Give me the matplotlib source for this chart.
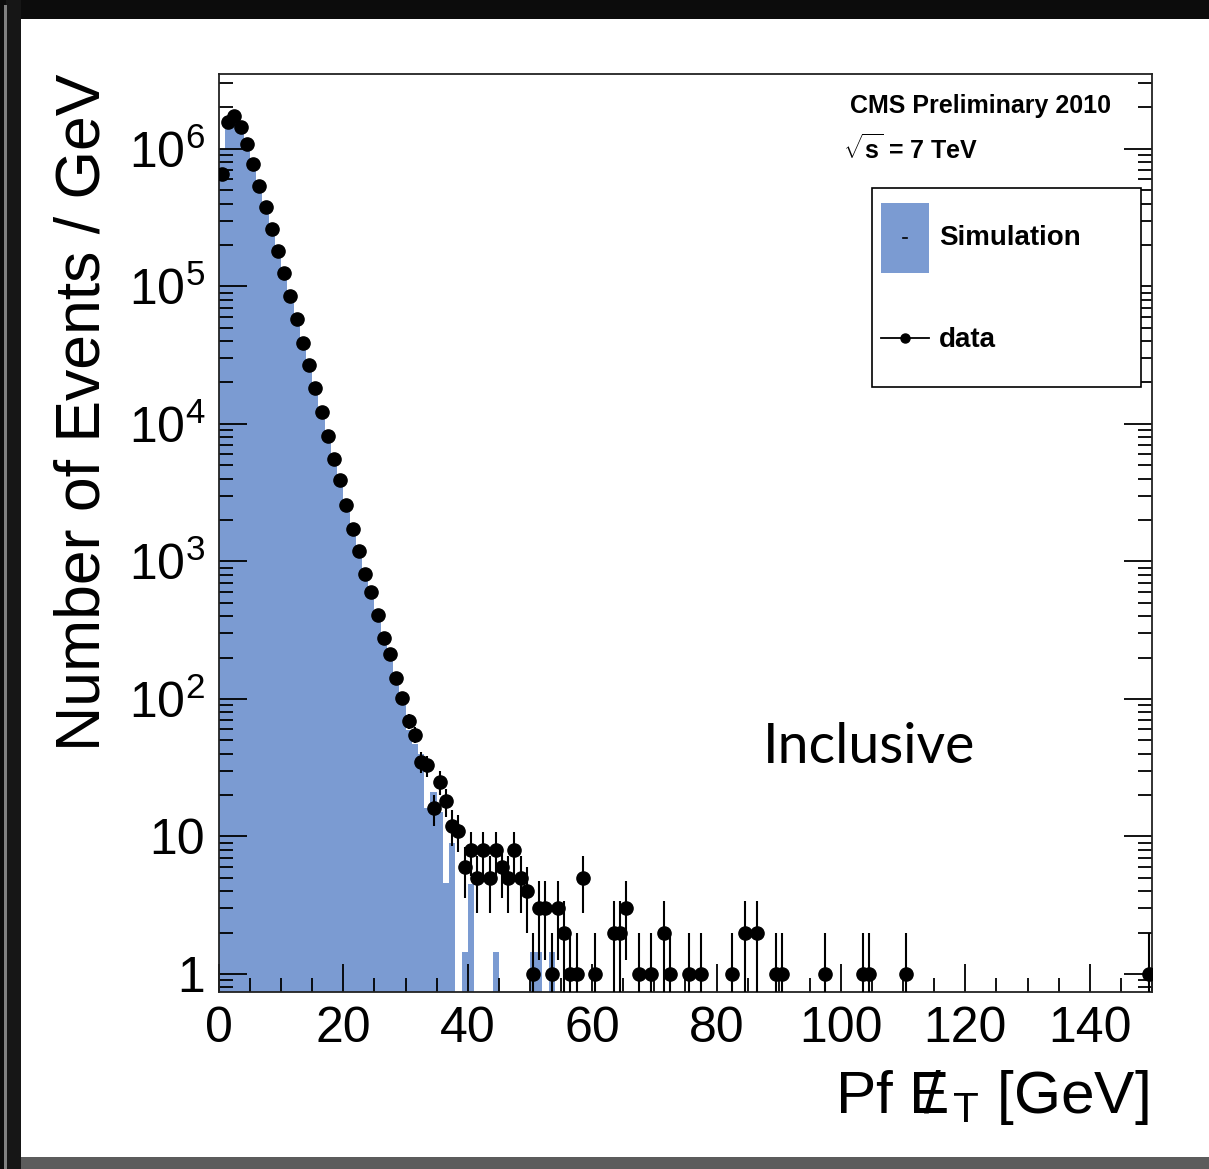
import matplotlib
matplotlib.use('Agg')
import matplotlib.pyplot as plt
import numpy as np
from matplotlib.patches import Rectangle
from matplotlib.lines import Line2D
from matplotlib.ticker import MultipleLocator, LogLocator, FixedLocator, FixedFormatter, NullFormatter

plt.rcParams['font.family'] = ['Liberation Sans', 'DejaVu Sans']
plt.rcParams['mathtext.fontset'] = 'custom'
plt.rcParams['mathtext.rm'] = 'Liberation Sans'
plt.rcParams['mathtext.bf'] = 'Liberation Sans:bold'
plt.rcParams['mathtext.it'] = 'Liberation Sans:italic'
plt.rcParams['mathtext.sf'] = 'Liberation Sans'

# data : borne inferieure du bin (1 GeV) et nombre d'evenements
data_bins = [0, 1, 2, 3, 4, 5, 6, 7, 8, 9, 10, 11, 12, 13, 14, 15, 16, 17, 18, 19,
             20, 21, 22, 23, 24, 25, 26, 27, 28, 29, 30, 31, 32, 33, 34, 35, 36, 37, 38, 39,
             40, 41, 42, 43, 44, 45, 46, 47, 48, 49, 50, 51, 52, 53, 54, 55, 56, 57, 58, 60,
             63, 64, 65, 67, 69, 71, 72, 75, 77, 82, 84, 86, 89, 90, 97, 103, 104, 110, 149]
data_counts = [6.6e5, 1.56e6, 1.72e6, 1.44e6, 1.08e6, 7.7e5, 5.4e5, 3.8e5, 2.62e5, 1.81e5,
               1.25e5, 8.5e4, 5.8e4, 3.9e4, 2.68e4, 1.82e4, 1.22e4, 8.2e3, 5.6e3, 3.9e3,
               2590, 1710, 1190, 807, 600, 406, 278, 212, 142, 102,
               69, 55, 35, 33, 16, 25, 18, 12, 11, 6,
               8, 5, 8, 5, 8, 6, 5, 8, 5, 4,
               1, 3, 3, 1, 3, 2, 1, 1, 5, 1,
               2, 2, 3, 1, 1, 2, 1, 1, 1, 1, 2, 2, 1, 1, 1, 1, 1, 1, 1]

# simulation normalisee, bins de 1 GeV a partir de 0
sim_counts = [1.0e6, 1.6e6, 1.65e6, 1.55e6, 1.05e6, 7.2e5, 5.0e5, 3.5e5, 2.4e5, 1.65e5,
              1.12e5, 7.8e4, 5.3e4, 3.6e4, 2.45e4, 1.68e4, 1.12e4, 7.5e3, 5.1e3, 3.55e3,
              2350, 1580, 1080, 730, 540, 370, 250, 190, 128, 92,
              59, 47, 40, 16, 21, 15, 4.6, 8.9, 0, 1.45,
              4.5, 0, 0, 0, 1.45, 0, 0, 0, 0, 0,
              1.45, 1.45, 0, 1.45]

y_ticks = [1, 10, 1e2, 1e3, 1e4, 1e5, 1e6]
y_tick_labels = ['1', '10', r'$\mathregular{10^{2}}$', r'$\mathregular{10^{3}}$',
                 r'$\mathregular{10^{4}}$', r'$\mathregular{10^{5}}$', r'$\mathregular{10^{6}}$']

blue = '#7b9bd2'

fig = plt.figure(figsize=(12.09, 11.69), dpi=100, facecolor='#0c0c0c')
# fond de la diapo
fig.patches.append(Rectangle((0.0050, 0.0), 0.0125, 1.0, transform=fig.transFigure,
                             facecolor='#161616', edgecolor='none', zorder=-10))
fig.patches.append(Rectangle((0.0033, 0.0), 0.0022, 0.996, transform=fig.transFigure,
                             facecolor='#808080', edgecolor='none', zorder=-9))
fig.patches.append(Rectangle((0.0174, 0.0103), 0.99, 0.9734, transform=fig.transFigure,
                             facecolor='white', edgecolor='none', zorder=-8))
fig.patches.append(Rectangle((0.0174, 0.0), 0.99, 0.0103, transform=fig.transFigure,
                             facecolor='#5c5c5c', edgecolor='none', zorder=-8))

ax = fig.add_axes([0.1811, 0.1514, 0.7717, 0.7853])
ax.set_facecolor('white')

edges = np.arange(len(sim_counts) + 1) * 1.0
ax.stairs(sim_counts, edges, fill=True, baseline=1e-3, color=blue, zorder=1)

x = np.array(data_bins) + 0.5
y = np.array(data_counts, dtype=float)
err = np.sqrt(y)
err_lo = np.minimum(err, y - 1e-3)
ax.errorbar(x, y, yerr=[err_lo, err], fmt='o', color='black', ms=9.5,
            elinewidth=1.5, capsize=0, zorder=3)

ax.set_yscale('log')
ax.set_xlim(0, 150)
ax.set_ylim(0.74, 3.5e6)

ax.xaxis.set_major_locator(MultipleLocator(20))
ax.xaxis.set_minor_locator(MultipleLocator(5))
ax.yaxis.set_major_locator(FixedLocator(y_ticks))
ax.yaxis.set_major_formatter(FixedFormatter(y_tick_labels))
ax.yaxis.set_minor_locator(LogLocator(base=10, subs=np.arange(2, 10), numticks=30))
ax.yaxis.set_minor_formatter(NullFormatter())

ax.tick_params(which='both', direction='in', left=True, right=True, top=False, bottom=True,
               width=1.3, colors='black')
ax.tick_params(which='major', length=20, labelsize=36, pad=10)
ax.tick_params(which='minor', length=10)
for s in ax.spines.values():
    s.set_linewidth(1.3)
    s.set_color('#222222')

ax.text(-0.146, 1.0, 'Number of Events / GeV', rotation=90, ha='center', va='top',
        fontsize=45, transform=ax.transAxes)
ax.text(0.997, -0.1318, r'Pf $\mathrm{E\!\!\!/\:{}_{T}}$ [GeV]', ha='right', va='baseline',
        fontsize=43.5, transform=ax.transAxes)

ax.text(0.676, 0.965, 'CMS Preliminary 2010', transform=ax.transAxes, fontsize=18,
        fontweight='bold', va='center', ha='left')
ax.text(0.669, 0.918, r'$\sqrt{\mathbf{s}}$ = 7 TeV', transform=ax.transAxes, fontsize=18,
        fontweight='bold', va='center', ha='left')
ax.text(0.583, 0.266, 'Inclusive', transform=ax.transAxes, fontsize=40, family='Lato',
        va='center', ha='left')

# legende
ax.add_patch(Rectangle((0.700, 0.659), 0.288, 0.217, transform=ax.transAxes, facecolor='white',
                       edgecolor='black', lw=1.2, zorder=5))
ax.add_patch(Rectangle((0.7095, 0.783), 0.0515, 0.076, transform=ax.transAxes, facecolor=blue,
                       edgecolor='none', zorder=6))
ax.add_line(Line2D([0.733, 0.737], [0.821, 0.821], transform=ax.transAxes, color='black',
                   lw=1.2, zorder=7))
ax.text(0.772, 0.821, 'Simulation', transform=ax.transAxes, fontsize=20, fontweight='bold',
        va='center', ha='left', zorder=7)
ax.add_line(Line2D([0.7095, 0.761], [0.712, 0.712], transform=ax.transAxes, color='black',
                   lw=1.3, zorder=7))
ax.add_line(Line2D([0.735], [0.712], transform=ax.transAxes, color='black', marker='o',
                   ms=6.5, zorder=7))
ax.text(0.772, 0.710, 'data', transform=ax.transAxes, fontsize=20, fontweight='bold',
        va='center', ha='left', zorder=7)

fig.savefig('out.png', dpi=100, facecolor=fig.get_facecolor())
